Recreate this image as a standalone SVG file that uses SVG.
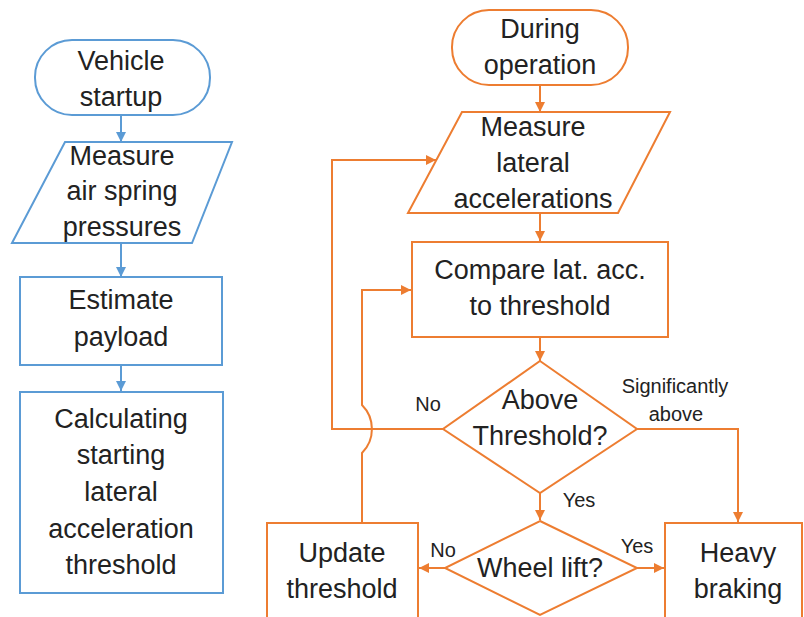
<svg xmlns="http://www.w3.org/2000/svg" width="804" height="617" viewBox="0 0 804 617">
  <defs>
    <marker id="arrB" viewBox="0 0 10 10" refX="10" refY="5" markerWidth="5" markerHeight="5" orient="auto" markerUnits="strokeWidth">
      <path d="M0,0 L10,5 L0,10 Z" fill="#5B9BD5"/>
    </marker>
    <marker id="arrO" viewBox="0 0 10 10" refX="10" refY="5" markerWidth="5" markerHeight="5" orient="auto" markerUnits="strokeWidth">
      <path d="M0,0 L10,5 L0,10 Z" fill="#ED7D31"/>
    </marker>
  </defs>
  <style>
    .blue { fill: #ffffff; stroke: #5B9BD5; stroke-width: 2; }
    .orange { fill: #ffffff; stroke: #ED7D31; stroke-width: 2; }
    .t { font-family: "Liberation Sans", Arial, sans-serif; font-size: 27px; fill: #222222; text-anchor: middle; }
    .s { font-family: "Liberation Sans", Arial, sans-serif; font-size: 20px; fill: #222222; text-anchor: middle; }
    .cb { fill: none; stroke: #5B9BD5; stroke-width: 2; marker-end: url(#arrB); }
    .co { fill: none; stroke: #ED7D31; stroke-width: 2; marker-end: url(#arrO); }
  </style>
  <rect width="804" height="617" fill="#ffffff"/>

  <!-- connectors -->
  <g id="connectors">
    <!-- startup chain -->
    <path class="cb" d="M121,115 V142"/>
    <path class="cb" d="M121,243 V277"/>
    <path class="cb" d="M121,365 V391"/>
    <!-- operation chain -->
    <path class="co" d="M540,85 V112"/>
    <path class="co" d="M540,213 V241"/>
    <path class="co" d="M540,337 V361"/>
    <path class="co" d="M540,493 V520"/>
    <!-- not above threshold: back to measuring -->
    <path class="co" d="M443,429 H332 V160 H436"/>
    <!-- significantly above: heavy braking -->
    <path class="co" d="M637,429 H738 V522"/>
    <!-- wheel lift branches -->
    <path class="co" d="M445,568 H419"/>
    <path class="co" d="M637,568 H664"/>
    <!-- updated threshold back to comparison, hopping over the No line -->
    <path class="co" d="M362,523 V453 A34,34 0 0 0 362,405 V290 H411"/>
    <!-- branch labels -->
    <text class="s" x="428" y="411">No</text>
    <text class="s" x="579" y="507">Yes</text>
    <text class="s" x="443" y="557">No</text>
    <text class="s" x="637" y="553">Yes</text>
    <text class="s" x="675" y="393">Significantly</text>
    <text class="s" x="676" y="421">above</text>
  </g>

  <!-- left column -->
  <g id="vehicle-startup">
    <rect class="blue" x="35" y="40" width="175" height="75" rx="37" ry="37"/>
    <text class="t" x="121" y="70">Vehicle</text>
    <text class="t" x="121" y="106">startup</text>
  </g>
  <g id="measure-pressures">
    <polygon class="blue" points="65,142 232,142 192,243 12,243"/>
    <text class="t" x="122" y="165">Measure</text>
    <text class="t" x="122" y="200">air spring</text>
    <text class="t" x="122" y="236">pressures</text>
  </g>
  <g id="estimate-payload">
    <rect class="blue" x="20" y="277" width="202" height="88"/>
    <text class="t" x="121" y="309">Estimate</text>
    <text class="t" x="121" y="346">payload</text>
  </g>
  <g id="starting-threshold">
    <rect class="blue" x="20" y="392" width="203" height="201"/>
    <text class="t" x="121" y="428">Calculating</text>
    <text class="t" x="121" y="464">starting</text>
    <text class="t" x="121" y="501">lateral</text>
    <text class="t" x="121" y="538">acceleration</text>
    <text class="t" x="121" y="574">threshold</text>
  </g>

  <!-- right column -->
  <g id="during-operation">
    <rect class="orange" x="452" y="10" width="176" height="75" rx="37" ry="37"/>
    <text class="t" x="540" y="38">During</text>
    <text class="t" x="540" y="74">operation</text>
  </g>
  <g id="measure-lateral">
    <polygon class="orange" points="462,112 670,112 618,213 408,213"/>
    <text class="t" x="533" y="136">Measure</text>
    <text class="t" x="533" y="172">lateral</text>
    <text class="t" x="533" y="208">accelerations</text>
  </g>
  <g id="compare">
    <rect class="orange" x="412" y="242" width="256" height="95"/>
    <text class="t" x="540" y="279">Compare lat. acc.</text>
    <text class="t" x="540" y="315">to threshold</text>
  </g>
  <g id="above-threshold">
    <polygon class="orange" points="540,361 637,429 540,493 443,429"/>
    <text class="t" x="540" y="409">Above</text>
    <text class="t" x="540" y="445">Threshold?</text>
  </g>
  <g id="wheel-lift">
    <polygon class="orange" points="540,521 637,568 540,615 445,568"/>
    <text class="t" x="540" y="577">Wheel lift?</text>
  </g>
  <g id="update-threshold">
    <rect class="orange" x="267" y="523" width="151" height="110"/>
    <text class="t" x="342" y="562">Update</text>
    <text class="t" x="342" y="598">threshold</text>
  </g>
  <g id="heavy-braking">
    <rect class="orange" x="665" y="523" width="137" height="110"/>
    <text class="t" x="738" y="562">Heavy</text>
    <text class="t" x="738" y="598">braking</text>
  </g>
</svg>
